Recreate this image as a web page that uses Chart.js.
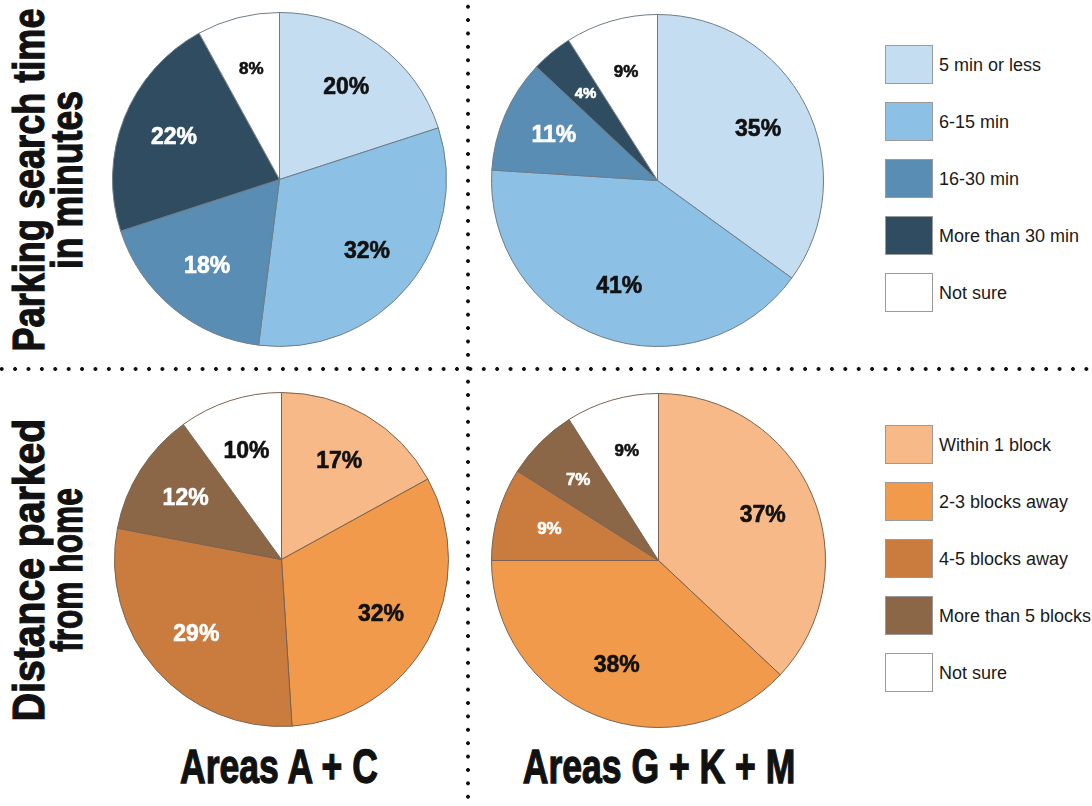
<!DOCTYPE html>
<html>
<head>
<meta charset="utf-8">
<script src="https://cdn.jsdelivr.net/npm/chart.js@4.4.1/dist/chart.umd.min.js"></script>
<style>
  html, body { margin: 0; padding: 0; background: #fff; }
  #page { position: relative; width: 1092px; height: 806px; overflow: hidden; background: #fff;
          font-family: "Liberation Sans", Arial, sans-serif; color: #111; }
  .pie { position: absolute; }
  .dots-h { position: absolute; left: 0; width: 1092px; height: 6px;
            background-image: radial-gradient(circle, #111 1.6px, rgba(0,0,0,0) 2.2px);
            background-size: 13.4px 6px; background-repeat: repeat-x; background-position: -5px 0; }
  .dots-v { position: absolute; top: 0; width: 6px; height: 806px;
            background-image: radial-gradient(circle, #111 1.6px, rgba(0,0,0,0) 2.2px);
            background-size: 6px 13.4px; background-repeat: repeat-y; background-position: 0 0; }
  .rowTitle { position: absolute; width: 420px; height: 76px; font-weight: bold; font-size: 44px;
              line-height: 38px; text-align: center; white-space: nowrap; -webkit-text-stroke: 1.2px #111; }
  .rowTitle span { display: block; }
  .colTitle { position: absolute; width: 500px; text-align: center; font-weight: bold; font-size: 48px;
              line-height: 48px; white-space: nowrap; transform: translateX(-50%) scaleX(0.74);
              -webkit-text-stroke: 1.3px #111; }
  .legend { position: absolute; left: 885px; }
  .legend .item { position: relative; height: 57px; }
  .legend .box { position: absolute; left: 0; top: 0; width: 46px; height: 37px; border: 1px solid #9a9a9a; }
  .legend .txt { position: absolute; left: 54px; top: 10px; font-size: 18px; line-height: 20px;
                 white-space: nowrap; color: #1a1a1a; }
</style>
</head>
<body>
<div id="page">
  <div class="dots-h" style="top:366px"></div>
  <div class="dots-v" style="left:465px"></div>

  <canvas id="pieSearchAC" class="pie"></canvas>
  <canvas id="pieSearchGKM" class="pie"></canvas>
  <canvas id="pieDistanceAC" class="pie"></canvas>
  <canvas id="pieDistanceGKM" class="pie"></canvas>

  <div id="rowTitleTop" class="rowTitle"></div>
  <div id="rowTitleBottom" class="rowTitle"></div>
  <div id="colTitleLeft" class="colTitle" style="left:279px; top:743px"></div>
  <div id="colTitleRight" class="colTitle" style="left:659px; top:743px"></div>

  <div id="legendSearch" class="legend" style="top:45px"></div>
  <div id="legendDistance" class="legend" style="top:425px"></div>
</div>

<script>
// Survey answers, in percent
const searchTimeLabels = ["5 min or less", "6-15 min", "16-30 min", "More than 30 min", "Not sure"];
const distanceLabels = ["Within 1 block", "2-3 blocks away", "4-5 blocks away", "More than 5 blocks", "Not sure"];

const searchTimeAC = [20, 32, 18, 22, 8];
const searchTimeGKM = [35, 41, 11, 4, 9];
const distanceAC = [17, 32, 29, 12, 10];
const distanceGKM = [37, 38, 9, 7, 9];

const columnTitles = ["Areas A + C", "Areas G + K + M"];
const rowTitlesTop = ["Parking search time", "in minutes"];
const rowTitlesBottom = ["Distance parked", "from home"];

// Palettes
const blues = ["#c5ddf1", "#8cc0e4", "#5a8db4", "#2f4c61", "#ffffff"];
const oranges = ["#f6b987", "#f19a4c", "#c97c3e", "#8b6748", "#ffffff"];
const sliceTextColors = ["#111111", "#111111", "#ffffff", "#ffffff", "#111111"];

// Percent labels drawn inside each slice, along its middle angle
const sliceLabels = {
  id: "sliceLabels",
  afterDatasetsDraw(chart) {
    const ctx = chart.ctx;
    const ds = chart.data.datasets[0];
    chart.getDatasetMeta(0).data.forEach((arc, i) => {
      const v = ds.data[i];
      const p = arc.getProps(["x", "y", "startAngle", "endAngle", "outerRadius"], true);
      const mid = (p.startAngle + p.endAngle) / 2;
      const rr = p.outerRadius * 0.68;
      const size = v < 5 ? 15 : (v < 10 ? 17 : 23);
      const tx = p.x + Math.cos(mid) * rr;
      const ty = p.y + Math.sin(mid) * rr;
      ctx.save();
      ctx.font = "bold " + size + "px 'Liberation Sans', Arial, sans-serif";
      ctx.fillStyle = sliceTextColors[i];
      ctx.strokeStyle = sliceTextColors[i];
      ctx.lineWidth = 0.6;
      ctx.textAlign = "center";
      ctx.textBaseline = "middle";
      ctx.fillText(v + "%", tx, ty);
      ctx.strokeText(v + "%", tx, ty);
      ctx.restore();
    });
  }
};

function drawPie(id, labels, values, colors, cx, cy, r, edge) {
  const size = Math.round(2 * r + 1);
  const el = document.getElementById(id);
  el.width = size; el.height = size;
  el.style.width = size + "px"; el.style.height = size + "px";
  el.style.left = (cx - size / 2) + "px";
  el.style.top = (cy - size / 2) + "px";
  new Chart(el, {
    type: "pie",
    data: {
      labels: labels,
      datasets: [{
        data: values,
        backgroundColor: colors,
        borderColor: edge,
        borderWidth: 1,
        hoverOffset: 0
      }]
    },
    options: {
      responsive: false,
      animation: false,
      layout: { padding: 0 },
      plugins: { legend: { display: false }, tooltip: { enabled: false } }
    },
    plugins: [sliceLabels]
  });
}

drawPie("pieSearchAC", searchTimeLabels, searchTimeAC, blues, 279, 179, 167, "#6e7d88");
drawPie("pieSearchGKM", searchTimeLabels, searchTimeGKM, blues, 657, 180, 166, "#6e7d88");
drawPie("pieDistanceAC", distanceLabels, distanceAC, oranges, 281, 559, 167, "#7a6350");
drawPie("pieDistanceGKM", distanceLabels, distanceGKM, oranges, 658, 560, 167, "#7a6350");

// Legends
function buildLegend(id, labels, colors) {
  const host = document.getElementById(id);
  labels.forEach((lab, i) => {
    const item = document.createElement("div");
    item.className = "item";
    const box = document.createElement("div");
    box.className = "box";
    box.style.background = colors[i];
    const txt = document.createElement("div");
    txt.className = "txt";
    txt.textContent = lab;
    item.appendChild(box);
    item.appendChild(txt);
    host.appendChild(item);
  });
}
buildLegend("legendSearch", searchTimeLabels, blues);
buildLegend("legendDistance", distanceLabels, oranges);

// Row titles, rotated to read bottom-to-top
function buildRowTitle(id, lines, scales, cx, cy) {
  const el = document.getElementById(id);
  lines.forEach((t, i) => {
    const s = document.createElement("span");
    s.textContent = t;
    s.style.transform = "scaleX(" + scales[i] + ")";
    el.appendChild(s);
  });
  el.style.left = (cx - 210) + "px";
  el.style.top = (cy - 38) + "px";
  el.style.transform = "rotate(-90deg)";
}
buildRowTitle("rowTitleTop", rowTitlesTop, [0.82, 0.81], 48, 180);
buildRowTitle("rowTitleBottom", rowTitlesBottom, [0.89, 0.72], 48, 570);

document.getElementById("colTitleLeft").textContent = columnTitles[0];
document.getElementById("colTitleRight").textContent = columnTitles[1];
</script>
</body>
</html>
